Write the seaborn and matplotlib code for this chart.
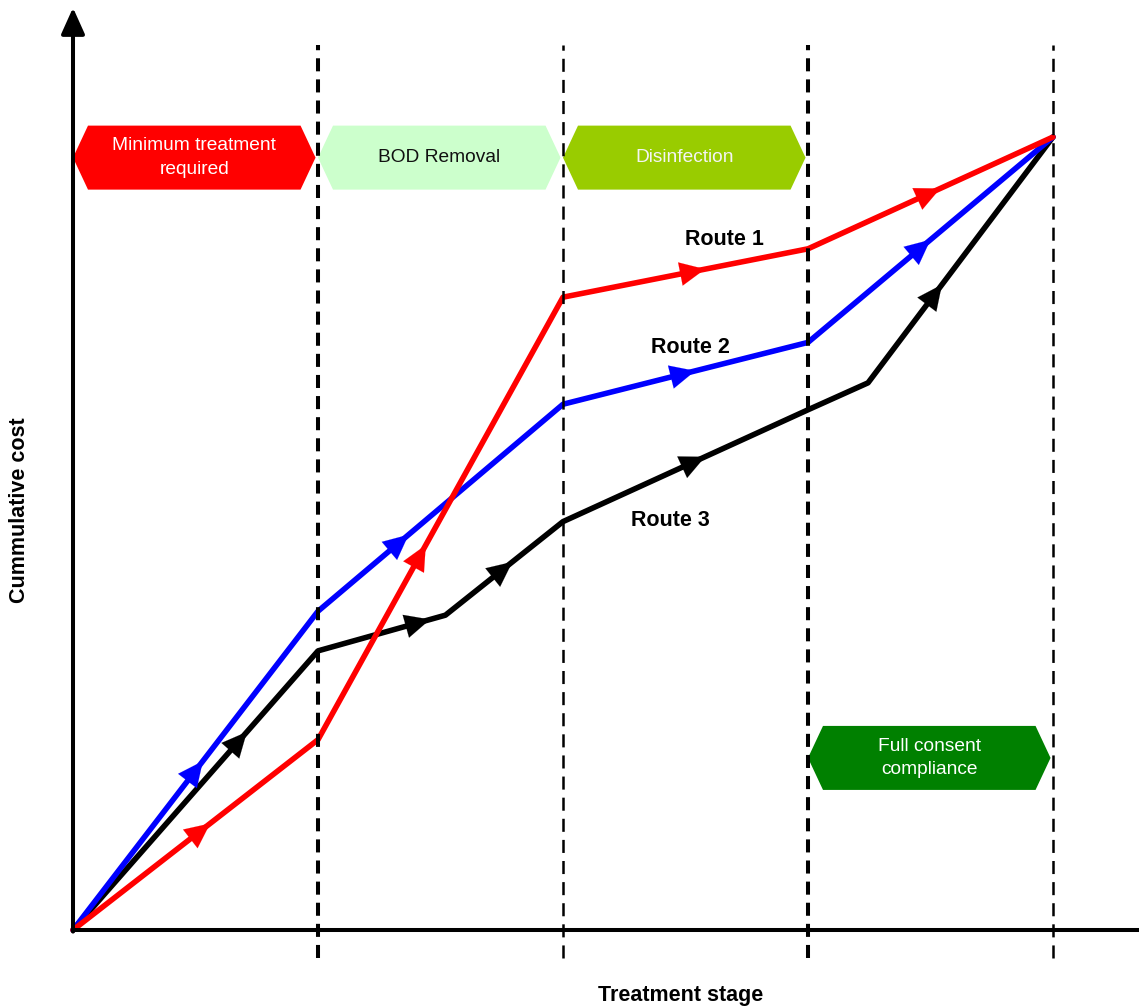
import pandas as pd
import seaborn as sns
import matplotlib.pyplot as plt
from matplotlib.patches import Polygon

# --- datos de las rutas (etapa de tratamiento vs costo acumulado) ---
route1_stage = [0, 1, 2, 3, 4]
route1_cost = [0, 24.0, 79.8, 85.9, 100]
route2_stage = [0, 1, 2, 3, 4]
route2_cost = [0, 40.2, 66.3, 74.1, 100]
route3_stage = [0, 1, 1.52, 2, 3, 3.245, 4]
route3_cost = [0, 35.2, 39.7, 51.5, 65.6, 69.0, 100]

# fraccion del tramo donde va cada flecha (None = sin flecha)
route1_arrows = [0.56, 0.44, 0.58, 0.54]
route2_arrows = [0.53, 0.37, 0.54, 0.50]
route3_arrows = [0.71, 0.88, 0.57, 0.58, None, 0.40]

route_names = ['Route 1', 'Route 2', 'Route 3']
route_colors = ['#FF0000', '#0000FF', '#000000']
label_stage = [2.66, 2.52, 2.44]
label_cost = [87.1, 73.5, 51.6]

# cajas de etapas
box_labels = ['Minimum treatment\nrequired', 'BOD Removal', 'Disinfection',
              'Full consent\ncompliance']
box_start = [0, 1, 2, 3]
box_level = [97.4, 97.4, 97.4, 21.7]
box_colors = ['#FF0000', '#CCFFCC', '#99CC00', '#008000']
box_text_colors = ['white', '#111111', '#F4F4F4', 'white']

stage_lines = [1, 2, 3, 4]
stage_lw = [2.9, 1.8, 2.9, 1.8]

df = pd.concat([
    pd.DataFrame({'stage': route1_stage, 'cost': route1_cost, 'route': 'Route 1'}),
    pd.DataFrame({'stage': route2_stage, 'cost': route2_cost, 'route': 'Route 2'}),
    pd.DataFrame({'stage': route3_stage, 'cost': route3_cost, 'route': 'Route 3'}),
], ignore_index=True)

sns.set_style('white')
plt.rcParams['font.family'] = ['Liberation Sans', 'DejaVu Sans']
plt.rcParams['text.color'] = 'black'

fig = plt.figure(figsize=(11.39, 10.08), dpi=100)
ax = fig.add_axes([0, 0, 1, 1])

# escala: 245 px por etapa, 7.93 px por unidad de costo
px_stage = 245.0
px_cost = 7.93
ax.set_xlim(-73 / px_stage, (1139 - 73) / px_stage)
ax.set_ylim(-78 / px_cost, (1008 - 78) / px_cost)
ax.axis('off')

palette = dict(zip(route_names, route_colors))
sns.lineplot(data=df, x='stage', y='cost', hue='route', hue_order=['Route 3', 'Route 2', 'Route 1'],
             palette=palette, sort=False, estimator=None, legend=False, ax=ax,
             linewidth=4.0, zorder=3)

# flechas sobre los tramos
for xs, ys, fr, c in [(route3_stage, route3_cost, route3_arrows, route_colors[2]),
                      (route2_stage, route2_cost, route2_arrows, route_colors[1]),
                      (route1_stage, route1_cost, route1_arrows, route_colors[0])]:
    for i, f in enumerate(fr):
        if f is None:
            continue
        x0, y0, x1, y1 = xs[i], ys[i], xs[i + 1], ys[i + 1]
        tip = (x0 + f * (x1 - x0), y0 + f * (y1 - y0))
        back = (x0 + (f - 0.06) * (x1 - x0), y0 + (f - 0.06) * (y1 - y0))
        ax.annotate('', xy=tip, xytext=back, zorder=4,
                    arrowprops=dict(arrowstyle='-|>,head_length=0.72,head_width=0.34',
                                    mutation_scale=25, color=c, lw=0.1,
                                    shrinkA=0, shrinkB=0))

# etiquetas de rutas
for n, xs, ys in zip(route_names, label_stage, label_cost):
    ax.text(xs, ys, n, ha='center', va='center', fontsize=15.5, fontweight='bold',
            color='black', zorder=6)

# cajas hexagonales
tip_w = 15 / px_stage
half_h = 32 / px_cost
for lab, x0, yc, col, tc in zip(box_labels, box_start, box_level, box_colors, box_text_colors):
    x1 = x0 + 0.99
    pts = [(x0, yc), (x0 + tip_w, yc + half_h), (x1 - tip_w, yc + half_h),
           (x1, yc), (x1 - tip_w, yc - half_h), (x0 + tip_w, yc - half_h)]
    ax.add_patch(Polygon(pts, closed=True, facecolor=col, edgecolor='none', zorder=2))
    ax.text((x0 + x1) / 2, yc, lab, ha='center', va='center', color=tc,
            fontsize=13.8, linespacing=1.5, zorder=2.5)

# lineas verticales de etapas
for xv, lw in zip(stage_lines, stage_lw):
    ax.plot([xv, xv], [-3.5, 111.6], color='black', lw=lw,
            dashes=(9.4 / lw, 5.8 / lw), zorder=5, solid_capstyle='butt')

# ejes con flecha
ax.plot([0, (1139 - 73) / px_stage], [0, 0], color='black', lw=2.9, zorder=6,
        solid_capstyle='butt')
ax.annotate('', xy=(0, 116.3), xytext=(0, -0.2), zorder=6,
            arrowprops=dict(arrowstyle='-|>,head_length=0.8,head_width=0.36',
                            mutation_scale=20, color='black', lw=2.9,
                            shrinkA=0, shrinkB=0))

fig.text(20 / 1139, 1 - 510 / 1008, 'Cummulative cost', rotation=90, ha='center', va='center',
         fontsize=15.5, fontweight='bold', color='black')
fig.text(681 / 1139, 1 - 995 / 1008, 'Treatment stage', ha='center', va='center',
         fontsize=15.5, fontweight='bold', color='black')

fig.savefig('out.png', dpi=100)
